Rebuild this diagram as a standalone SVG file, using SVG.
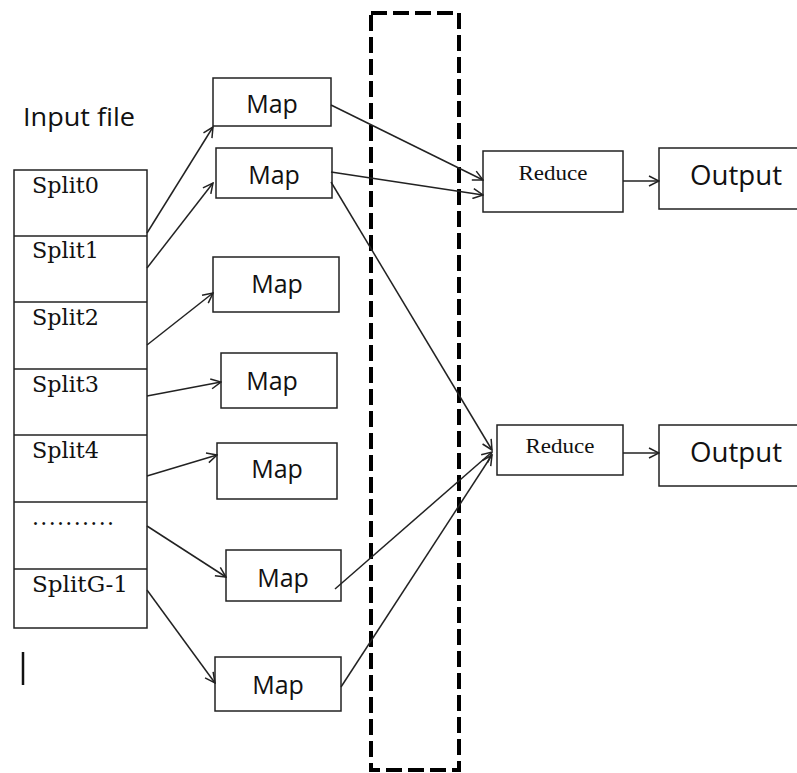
<svg xmlns="http://www.w3.org/2000/svg" width="797" height="773" viewBox="0 0 797 773">
<defs>
<marker id="arr" viewBox="0 0 12 12" refX="11" refY="6" markerWidth="12" markerHeight="12" markerUnits="userSpaceOnUse" orient="auto">
<path d="M1,1 L11,6 L1,11" fill="none" stroke="#222" stroke-width="1.5"/>
</marker>
<style>
.box{fill:#fff;stroke:#222;stroke-width:1.5}
.sans{font-family:"Open Sans","Liberation Sans",sans-serif;fill:#111}
.serif{font-family:"DejaVu Serif","Liberation Serif",serif;fill:#111;font-size:22px}
.rserif{font-family:"Liberation Serif",serif;fill:#111;font-size:22px}
.map{font-size:25px;text-anchor:middle}
.edge{fill:none;stroke:#222;stroke-width:1.5;marker-end:url(#arr)}
.sep{stroke:#222;stroke-width:1.5}
</style>
</defs>
<rect width="797" height="773" fill="#fff"/>
<g id="dashed-box">
<rect x="371" y="13" width="88" height="757" fill="none" stroke="#000" stroke-width="4" stroke-dasharray="16 6"/>
</g>
<g id="input-label"><text class="sans" x="23" y="126" font-size="25" textLength="112" lengthAdjust="spacingAndGlyphs">Input file</text></g>
<g id="input-file">
<rect class="box" x="14" y="170" width="133" height="458"/>
<line class="sep" x1="14" y1="236" x2="147" y2="236"/>
<line class="sep" x1="14" y1="302" x2="147" y2="302"/>
<line class="sep" x1="14" y1="369" x2="147" y2="369"/>
<line class="sep" x1="14" y1="435" x2="147" y2="435"/>
<line class="sep" x1="14" y1="502" x2="147" y2="502"/>
<line class="sep" x1="14" y1="569" x2="147" y2="569"/>
<text class="serif" x="32" y="193" textLength="67" lengthAdjust="spacingAndGlyphs">Split0</text>
<text class="serif" x="32" y="258" textLength="67" lengthAdjust="spacingAndGlyphs">Split1</text>
<text class="serif" x="32" y="325" textLength="67" lengthAdjust="spacingAndGlyphs">Split2</text>
<text class="serif" x="32" y="392" textLength="67" lengthAdjust="spacingAndGlyphs">Split3</text>
<text class="serif" x="32" y="458" textLength="67" lengthAdjust="spacingAndGlyphs">Split4</text>
<text class="serif" x="32" y="525" font-size="12" fill="#333" textLength="82">..........</text>
<text class="serif" x="32" y="592" textLength="96" lengthAdjust="spacingAndGlyphs">SplitG-1</text>
</g>
<g id="cursor"><line x1="23" y1="652" x2="23" y2="685" stroke="#111" stroke-width="2.5"/></g>
<g id="map1"><rect class="box" x="213" y="78" width="118" height="48"/><text class="sans map" x="272" y="113">Map</text></g>
<g id="map2"><rect class="box" x="216" y="148" width="116" height="50"/><text class="sans map" x="274" y="184">Map</text></g>
<g id="map3"><rect class="box" x="213" y="257" width="126" height="55"/><text class="sans map" x="277" y="293">Map</text></g>
<g id="map4"><rect class="box" x="221" y="353" width="116" height="55"/><text class="sans map" x="272" y="390">Map</text></g>
<g id="map5"><rect class="box" x="217" y="443" width="120" height="56"/><text class="sans map" x="277" y="478">Map</text></g>
<g id="map6"><rect class="box" x="226" y="550" width="115" height="51"/><text class="sans map" x="283" y="587">Map</text></g>
<g id="map7"><rect class="box" x="215" y="657" width="126" height="54"/><text class="sans map" x="278" y="694">Map</text></g>
<g id="reduce1"><rect class="box" x="483" y="151" width="140" height="61"/><text class="rserif" x="553" y="180" text-anchor="middle" textLength="69" lengthAdjust="spacingAndGlyphs">Reduce</text></g>
<g id="reduce2"><rect class="box" x="497" y="425" width="126" height="50"/><text class="rserif" x="560" y="453" text-anchor="middle" textLength="69" lengthAdjust="spacingAndGlyphs">Reduce</text></g>
<g id="output1"><rect class="box" x="659" y="148" width="140" height="61"/><text class="sans" x="690" y="185" font-size="27" textLength="92" lengthAdjust="spacingAndGlyphs">Output</text></g>
<g id="output2"><rect class="box" x="659" y="425" width="140" height="61"/><text class="sans" x="690" y="462" font-size="27" textLength="92" lengthAdjust="spacingAndGlyphs">Output</text></g>
<g id="connectors">
<line class="edge" x1="147" y1="233" x2="213" y2="127"/>
<line class="edge" x1="147" y1="268" x2="213" y2="183"/>
<line class="edge" x1="147" y1="345" x2="213" y2="293"/>
<line class="edge" x1="147" y1="396" x2="221" y2="382"/>
<line class="edge" x1="147" y1="476" x2="217" y2="455"/>
<line class="edge" x1="147" y1="526" x2="226" y2="577"/>
<line class="edge" x1="147" y1="590" x2="215" y2="683"/>
<line class="edge" x1="331" y1="105" x2="483" y2="180"/>
<line class="edge" x1="331" y1="172" x2="483" y2="195"/>
<line class="edge" x1="331" y1="182" x2="492" y2="450"/>
<line class="edge" x1="335" y1="589" x2="492" y2="452"/>
<line class="edge" x1="341" y1="687" x2="492" y2="455"/>
<line class="edge" x1="623" y1="181" x2="659" y2="181"/>
<line class="edge" x1="623" y1="453" x2="659" y2="453"/>
</g>
</svg>
